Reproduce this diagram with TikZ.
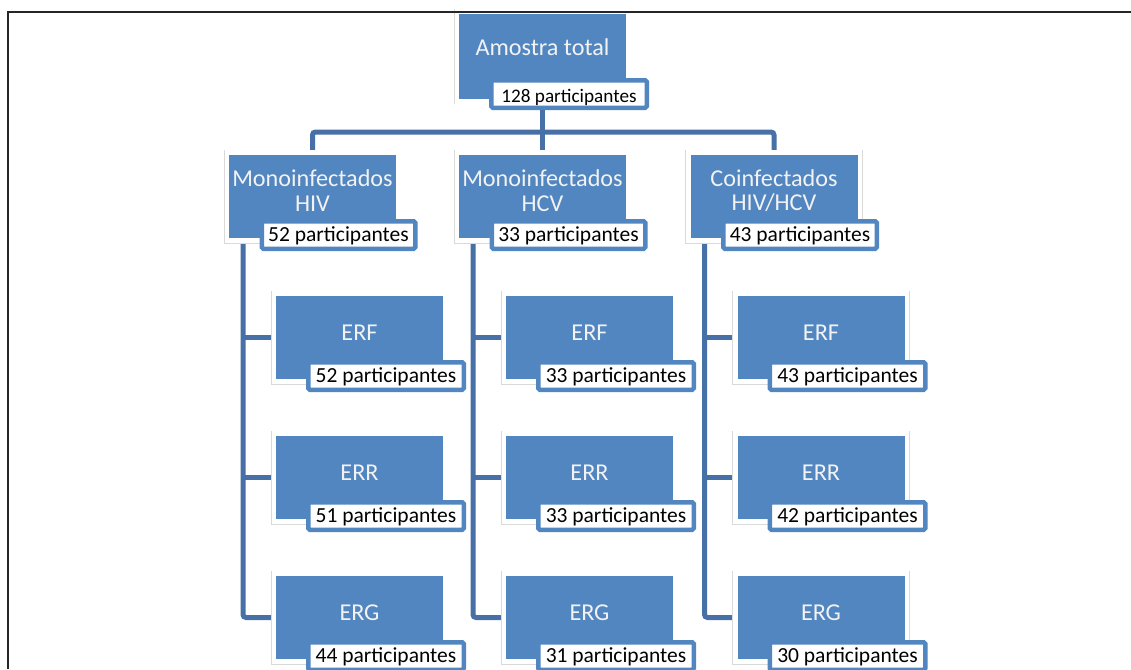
\documentclass[tikz,border=0pt]{standalone}
\usepackage{fontspec}
\setmainfont{Carlito}
\definecolor{boxblue}{RGB}{82,134,193}
\definecolor{connblue}{RGB}{70,112,166}
\pgfdeclarelayer{back}
\pgfdeclarelayer{bg}
\pgfdeclarelayer{front}
\pgfsetlayers{back,bg,main,front}
\begin{document}
\begin{tikzpicture}[x=1pt,y=-1pt,
  box/.style={rectangle, fill=boxblue, draw=white, line width=4.5pt,
    minimum width=171.5pt, minimum height=88pt, inner sep=0pt,
    preaction={draw=black!15, line width=6pt}},
  lab/.style={rectangle, draw=boxblue, line width=4.5pt, fill=white,
    rounded corners=1.5pt, minimum width=155.5pt, minimum height=27.5pt,
    inner sep=0pt, text=black, font=\fontsize{21.5}{24}\selectfont,
    text height=16pt, text depth=4pt},
  ttl/.style={text=white!95!black, font=\fontsize{24.2}{24.5}\selectfont,
    align=center, inner sep=0pt},
  conn/.style={draw=connblue, line width=5pt, rounded corners=3pt}]
\useasboundingbox (0,0) rectangle (1131,669);
\begin{pgfonlayer}{back}
  \fill[white] (0,0) rectangle (1131,669);
\end{pgfonlayer}
\begin{pgfonlayer}{front}
  \draw[line width=2pt, black!85] (8.3,669) -- (8.3,11.7) -- (1131,11.7);
\end{pgfonlayer}

% top
\node[box, minimum height=89.5pt] (top) at (542.5,56.5) {};
\node[lab, font=\fontsize{19.2}{22}\selectfont, text height=18pt, text depth=2pt] (topl) at ([shift={(26.5,37.5)}]top.center) {128 participantes};
\node[ttl, anchor=base] (topt) at ([yshift=0.5pt]top.center) {Amostra total};

% level 2
\node[box] (hiv) at (312.5,196.5) {};
\node[box] (hcv) at (542.5,196.5) {};
\node[box] (coi) at (774,196.5) {};
\node[ttl] (hivt) at ([yshift=6pt]hiv.center) {Monoinfectados\\HIV};
\node[ttl] (hcvt) at ([yshift=6pt]hcv.center) {Monoinfectados\\HCV};
\node[ttl] (coit) at ([yshift=6pt]coi.center) {Coinfectados\\HIV/HCV};
\node[lab, minimum width=153.5pt] (hivl) at ([shift={(26,38.5)}]hiv.center) {52 participantes};
\node[lab, minimum width=153.5pt] (hcvl) at ([shift={(26,38.5)}]hcv.center) {33 participantes};
\node[lab, minimum width=153.5pt] (coil) at ([shift={(26,38.5)}]coi.center) {43 participantes};

% level 3
\foreach \c/\p/\nf/\nr/\ng in {a/hiv/52/51/44, b/hcv/33/33/31, c/coi/43/42/30}{
  \node[box] (\c f) at ([shift={(47,141)}]\p.center) {};
  \node[box] (\c r) at ([shift={(47,281)}]\p.center) {};
  \node[box] (\c g) at ([shift={(47,421)}]\p.center) {};
  \node[ttl, anchor=base] (\c ft) at ([yshift=-2.5pt]\c f.center) {ERF};
  \node[ttl, anchor=base] (\c rt) at ([yshift=-2.5pt]\c r.center) {ERR};
  \node[ttl, anchor=base] (\c gt) at ([yshift=-2.5pt]\c g.center) {ERG};
  \node[lab] (\c fl) at ([shift={(26.5,38.5)}]\c f.center) {\nf{} participantes};
  \node[lab] (\c rl) at ([shift={(26.5,38.5)}]\c r.center) {\nr{} participantes};
  \node[lab] (\c gl) at ([shift={(26.5,38.5)}]\c g.center) {\ng{} participantes};
  \coordinate (\c v) at ([xshift=-69.5pt]\p.center);
}

\begin{pgfonlayer}{bg}
  \coordinate (bus) at (542.5,132);
  \draw[conn] (top.center) -- (bus);
  \draw[conn] (bus) -| (hiv.center);
  \draw[conn] (bus) -| (coi.center);
  \draw[conn] (bus) -- (hcv.center);
  \foreach \c in {a,b,c}{
    \draw[conn] (\c v) |- (\c g.center);
    \draw[conn] (\c f.center -| \c v) -- (\c f.center);
    \draw[conn] (\c r.center -| \c v) -- (\c r.center);
  }
\end{pgfonlayer}
\end{tikzpicture}
\end{document}
